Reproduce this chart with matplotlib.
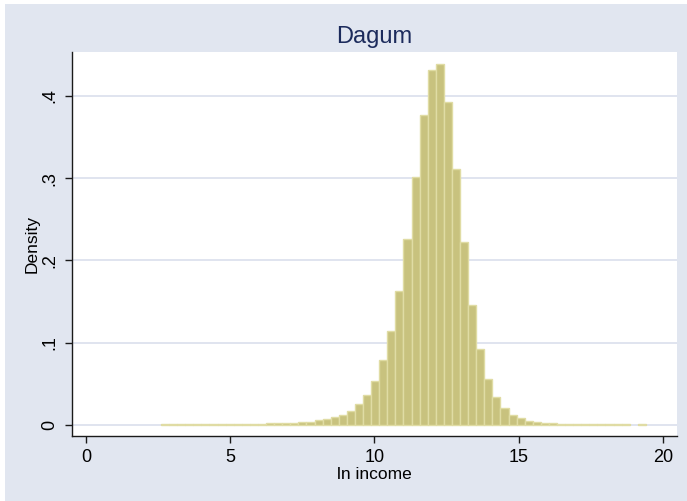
import numpy as np
import matplotlib
matplotlib.use("Agg")
import matplotlib.pyplot as plt
from matplotlib.patches import Rectangle

# ---- data ----
bin_start = 2.60
bin_width = 0.2802
density = [
    0.0010, 0.0010, 0.0010, 0.0010, 0.0010, 0.0010, 0.0010, 0.0011, 0.0011, 0.0011,
    0.0012, 0.0013, 0.0015, 0.0018, 0.0021, 0.0024, 0.0028, 0.0033, 0.0042, 0.0055,
    0.0070, 0.0092, 0.0123, 0.0175, 0.0250, 0.0368, 0.0540, 0.0787, 0.1138, 0.1630,
    0.2260, 0.3010, 0.3770, 0.4310, 0.4386, 0.3920, 0.3110, 0.2225, 0.1460, 0.0920,
    0.0558, 0.0340, 0.0208, 0.0125, 0.0079, 0.0052, 0.0038, 0.0027, 0.0018, 0.0014,
    0.0012, 0.0011, 0.0010, 0.0010, 0.0010, 0.0010, 0.0010, 0.0010, 0.0, 0.0010,
]
x_ticks = [0, 5, 10, 15, 20]
y_ticks = [0, 0.1, 0.2, 0.3, 0.4]
y_ticklabels = ["0", ".1", ".2", ".3", ".4"]
title = "Dagum"
xlabel = "ln income"
ylabel = "Density"

# ---- style ----
W, H = 687, 501
bg = "#E1E6F0"
bar_fill = "#C8C27E"
bar_edge = "#E0DCA4"
grid_col = "#DDE2EE"
plt.rcParams["font.family"] = ["Liberation Sans", "DejaVu Sans"]

fig = plt.figure(figsize=(W / 100, H / 100), dpi=100, facecolor="white")
fig.patches.append(Rectangle((5 / W, 0), 1, 1 - 4 / H, transform=fig.transFigure,
                             facecolor=bg, edgecolor="none", zorder=-10))

left, right, top, bottom = 72, 677, 52, 436
ax = fig.add_axes([left / W, 1 - bottom / H, (right - left) / W, (bottom - top) / H])
ax.set_facecolor("white")

edges = bin_start + bin_width * np.arange(len(density))
dens = np.array(density)
mask = dens > 0
ax.bar(edges[mask], dens[mask], width=bin_width, align="edge",
       color=bar_fill, edgecolor=bar_edge, linewidth=1.0, zorder=3)

ax.set_xlim(-0.485, 20.49)
ax.set_ylim(-0.0134, 0.4532)
ax.set_xticks(x_ticks)
ax.set_xticklabels([str(t) for t in x_ticks])
ax.set_yticks(y_ticks)
ax.set_yticklabels(y_ticklabels, rotation=90, va="center")
for y in y_ticks:
    ax.axhline(y, color=grid_col, lw=1.3, zorder=1)

for s in ["top", "right"]:
    ax.spines[s].set_visible(False)
for s in ["left", "bottom"]:
    ax.spines[s].set_color("#1a1a1a")
    ax.spines[s].set_linewidth(1.0)

ax.tick_params(axis="both", direction="out", length=5, width=1.0, color="#1a1a1a",
               labelsize=13, labelcolor="black")
ax.tick_params(axis="x", pad=4)
ax.tick_params(axis="y", pad=5)

ax.set_xlabel(xlabel, fontsize=12.5, labelpad=1)
ax.set_ylabel(ylabel, fontsize=12.5, labelpad=1)
fig.text((left + right) / 2 / W, 1 - 37 / H, title, ha="center", va="center",
         fontsize=17, color="#1C2B5C")

fig.savefig("out.png", dpi=100, facecolor=fig.get_facecolor())
